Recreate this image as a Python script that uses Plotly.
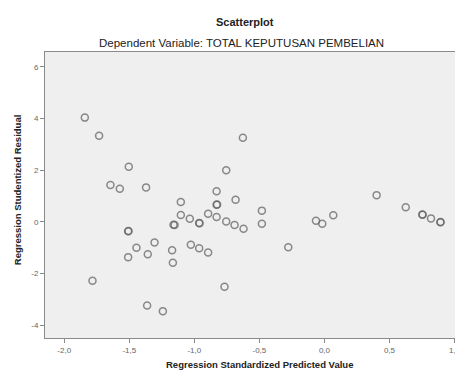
import plotly.graph_objects as go

# Regression Standardized Predicted Value
pred = [-1.842, -1.732, -0.627, -1.504, -0.755, -1.645, -1.573, -1.371, -0.829, -0.683,
        -1.104, -0.829, -0.825, -1.104, -1.035, -0.894, -0.829, -0.755, -0.691, -0.622,
        -1.160, -1.152, -0.963, -0.960, -1.509, -1.506, -1.445, -1.306, -1.509, -1.358,
        -1.171, -1.165, -1.027, -0.963, -0.894, -1.783, -0.768, -1.363, -1.242, -0.481,
        -0.481, -0.278, -0.065, -0.017, 0.068, 0.401, 0.625, 0.755, 0.752, 0.819,
        0.891, 0.893]
# Regression Studentized Residual
resid = [4.03, 3.33, 3.25, 2.13, 1.99, 1.42, 1.28, 1.33, 1.18, 0.85,
         0.76, 0.66, 0.67, 0.26, 0.12, 0.31, 0.18, 0.01, -0.13, -0.27,
         -0.12, -0.13, -0.05, -0.06, -0.37, -0.36, -1.01, -0.80, -1.37, -1.26,
         -1.10, -1.59, -0.89, -1.03, -1.19, -2.28, -2.52, -3.24, -3.46, 0.43,
         -0.08, -0.99, 0.04, -0.08, 0.25, 1.03, 0.56, 0.27, 0.28, 0.13,
         -0.02, -0.01]

x_tickvals = [-2.0, -1.5, -1.0, -0.5, 0.0, 0.5, 1.0]
x_ticktext = ["-2,0", "-1,5", "-1,0", "-0,5", "0,0", "0,5", "1,0"]
y_tickvals = [6, 4, 2, 0, -2, -4]
y_ticktext = ["6", "4", "2", "0", "-2", "-4"]

FONT = "Arial, Liberation Sans, sans-serif"

fig = go.Figure(go.Scatter(
    x=pred, y=resid, mode="markers",
    marker=dict(symbol="circle-open", size=7,
                line=dict(color="rgba(95,95,95,0.72)", width=1.5),
                color="rgba(95,95,95,0.72)"),
    hoverinfo="skip",
))

# page body has an 8px default margin, so the figure is 8px smaller than the window
fig.update_layout(
    width=455, height=364,
    margin=dict(l=37, r=0, t=44, b=34),
    paper_bgcolor="white",
    plot_bgcolor="#efefef",
    showlegend=False,
    font=dict(family=FONT, color="#333"),
    xaxis=dict(range=[-2.148, 1.065], tickvals=x_tickvals, ticktext=x_ticktext,
               showgrid=False, zeroline=False, showline=True, linecolor="#8a8a8a",
               linewidth=1, mirror=True, ticks="outside", ticklen=4, tickcolor="#8a8a8a",
               ticklabeloverflow="allow",
               tickfont=dict(size=8, color="#666", family=FONT)),
    yaxis=dict(range=[-4.5, 6.57], tickvals=y_tickvals, ticktext=y_ticktext,
               showgrid=False, zeroline=False, showline=True, linecolor="#8a8a8a",
               linewidth=1, ticks="outside", ticklen=4, tickcolor="#8a8a8a",
               tickfont=dict(size=8, color="#666", family=FONT)),
    annotations=[
        dict(text="<b>Scatterplot</b>", x=0.478, y=1.105, xref="paper", yref="paper",
             xanchor="center", yanchor="middle", showarrow=False,
             font=dict(size=11, color="#222", family=FONT)),
        dict(text="Dependent Variable: TOTAL KEPUTUSAN PEMBELIAN", x=0.469, y=1.031,
             xref="paper", yref="paper", xanchor="center", yanchor="middle",
             showarrow=False, font=dict(size=11.5, color="#222", family=FONT)),
        dict(text="<b>Regression Standardized Predicted Value</b>", x=0.514, y=-0.094,
             xref="paper", yref="paper", xanchor="center", yanchor="middle",
             showarrow=False, font=dict(size=9.5, color="#222", family=FONT)),
        dict(text="<b>Regression Studentized Residual</b>", x=-0.067, y=0.517,
             xref="paper", yref="paper", xanchor="center", yanchor="middle",
             textangle=-90, showarrow=False, font=dict(size=9.5, color="#222", family=FONT)),
    ],
)

fig.write_html("out.html")
